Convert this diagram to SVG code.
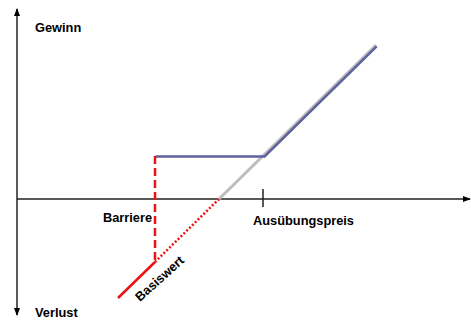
<svg xmlns="http://www.w3.org/2000/svg" width="471" height="320" viewBox="0 0 471 320">
<defs>
<marker id="ah" markerWidth="8" markerHeight="8" refX="7" refY="4" orient="auto" markerUnits="userSpaceOnUse">
<path d="M0,1 L8,4 L0,7 Z" fill="#000"/>
</marker>
<style>
.lbl{font-family:"Liberation Sans",Arial,sans-serif;font-weight:bold;font-size:12.8px;fill:#000}
.axis{stroke:#222;stroke-width:1.5;fill:none}
.red{stroke:#ee1111;stroke-width:2.5;fill:none}
</style>
</defs>
<rect width="471" height="320" fill="#fff"/>
<g id="connectors">
<line class="axis" x1="17" y1="160" x2="17" y2="9" marker-end="url(#ah)"/>
<line class="axis" x1="17" y1="160" x2="17" y2="315" marker-end="url(#ah)"/>
<line class="axis" x1="17" y1="199" x2="470" y2="199" marker-end="url(#ah)"/>
<line class="axis" x1="263" y1="189" x2="263" y2="207"/>
<line x1="218" y1="200" x2="376" y2="45" stroke="#bdbdbd" stroke-width="3"/>
<polyline points="155,156 264,156 376,46" fill="none" stroke="#5d619e" stroke-width="2.5" transform="translate(0.6,0.4)"/>
<line class="red" x1="155" y1="156" x2="155" y2="262" stroke-dasharray="8,4"/>
<line class="red" x1="155" y1="262" x2="219" y2="199" stroke-dasharray="2,2"/>
<line class="red" x1="118" y1="298" x2="155" y2="262"/>
</g>
<g id="gewinn"><text class="lbl" x="35" y="32">Gewinn</text></g>
<g id="verlust"><text class="lbl" x="35" y="317">Verlust</text></g>
<g id="barriere"><text class="lbl" x="103" y="222">Barriere</text></g>
<g id="ausuebungspreis"><text class="lbl" x="253" y="225" font-size="13.3">Ausübungspreis</text></g>
<g id="basiswert"><text class="lbl" transform="translate(140,302) rotate(-42)">Basiswert</text></g>
</svg>
